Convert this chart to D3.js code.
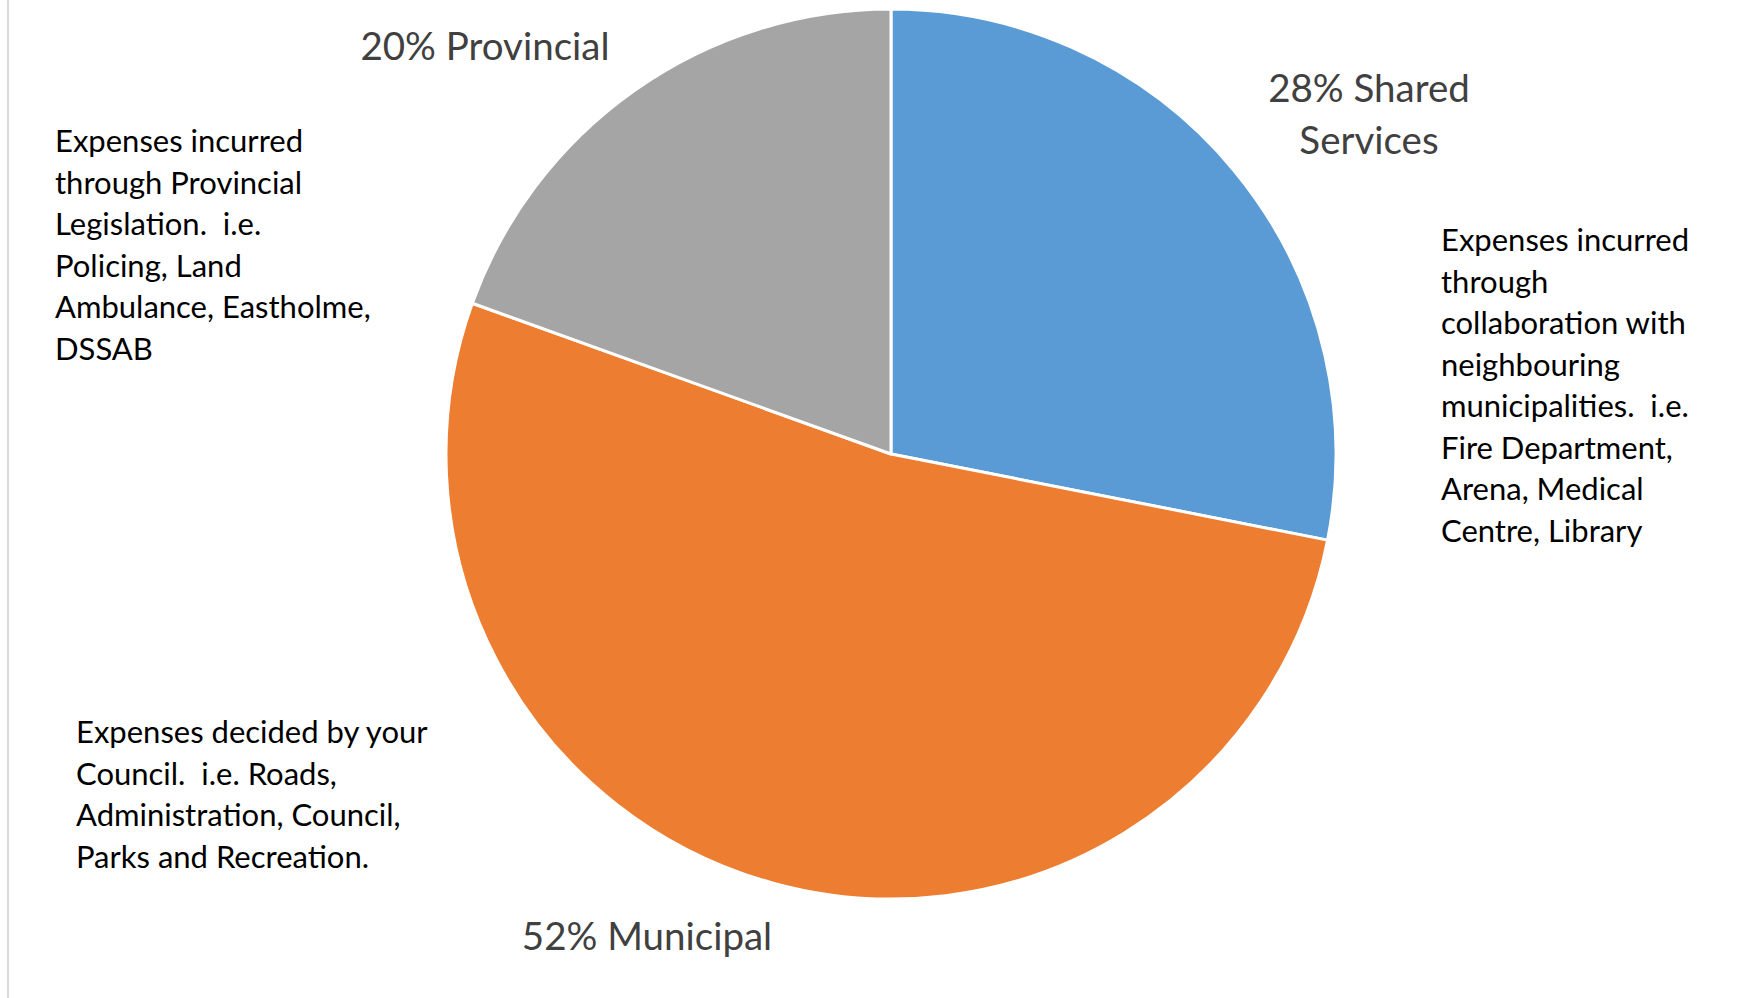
<!DOCTYPE html>
<html>
<head>
<meta charset="utf-8">
<script src="https://cdn.jsdelivr.net/npm/d3@7"></script>
<style>
  body { margin: 0; background: #fff; }
  svg { display: block; font-family: Lato, "Open Sans", sans-serif; }
  text { white-space: pre; }
</style>
</head>
<body>
<div id="container"></div>
<script>
/* DATA */
const categories = ["Shared Services", "Municipal", "Provincial"];
// slice sizes as drawn (labels round them to 28 / 52 / 20)
const shares = [28.1, 52.4, 19.5];
const labelLines = [["28% Shared", "Services"], ["52% Municipal"], ["20% Provincial"]];
const notes = [
  ["Expenses incurred", "through", "collaboration with", "neighbouring", "municipalities.  i.e.", "Fire Department,", "Arena, Medical", "Centre, Library"],
  ["Expenses decided by your", "Council.  i.e. Roads,", "Administration, Council,", "Parks and Recreation."],
  ["Expenses incurred", "through Provincial", "Legislation.  i.e.", "Policing, Land", "Ambulance, Eastholme,", "DSSAB"]
];

/* CONSTANTS */
const width = 1758,
  height = 998,
  cx = 891,
  cy = 454,
  radius = 445;

const color = d3.scaleOrdinal()
  .domain(categories)
  .range(["#5b9bd5", "#ed7d31", "#a5a5a5"]);

// where the label / note blocks sit (x anchor, first line y)
const labelPos = [
  { x: 1369, y: 87 },
  { x: 647, y: 935 },
  { x: 485, y: 45 }
];
const notePos = [
  { x: 1441, y: 239 },
  { x: 76, y: 731 },
  { x: 55, y: 140 }
];

const svg = d3.select("#container")
  .append("svg")
  .attr("width", width)
  .attr("height", height);

// faint frame line on the left
svg.append("line")
  .attr("x1", 8).attr("x2", 8)
  .attr("y1", 0).attr("y2", height)
  .attr("stroke", "#d9d9d9")
  .attr("stroke-width", 2);

const pie = d3.pie()
  .sort(null)
  .value(d => d.value);

const arc = d3.arc()
  .innerRadius(0)
  .outerRadius(radius);

const data = categories.map((c, i) => ({ name: c, value: shares[i] }));

svg.append("g")
  .attr("transform", `translate(${cx}, ${cy})`)
  .selectAll("path")
  .data(pie(data))
  .join("path")
  .attr("d", arc)
  .attr("fill", d => color(d.data.name))
  .attr("stroke", "#fff")
  .attr("stroke-width", 3)
  .attr("stroke-linejoin", "round");

// slice labels
const labels = svg.append("g").attr("class", "labels");
labelLines.forEach((lines, i) => {
  labels.append("text")
    .attr("text-anchor", "middle")
    .attr("fill", "#404040")
    .attr("font-size", 38.5)
    .selectAll("tspan")
    .data(lines)
    .join("tspan")
    .attr("x", labelPos[i].x)
    .attr("y", (d, j) => labelPos[i].y + j * 52)
    .attr("dominant-baseline", "central")
    .text(d => d);
});

// explanatory notes
const noteG = svg.append("g").attr("class", "notes");
notes.forEach((lines, i) => {
  noteG.append("text")
    .attr("fill", "#000")
    .attr("font-size", 31)
    .selectAll("tspan")
    .data(lines)
    .join("tspan")
    .attr("x", notePos[i].x)
    .attr("y", (d, j) => notePos[i].y + j * 41.5)
    .attr("dominant-baseline", "central")
    .text(d => d);
});
</script>
</body>
</html>
